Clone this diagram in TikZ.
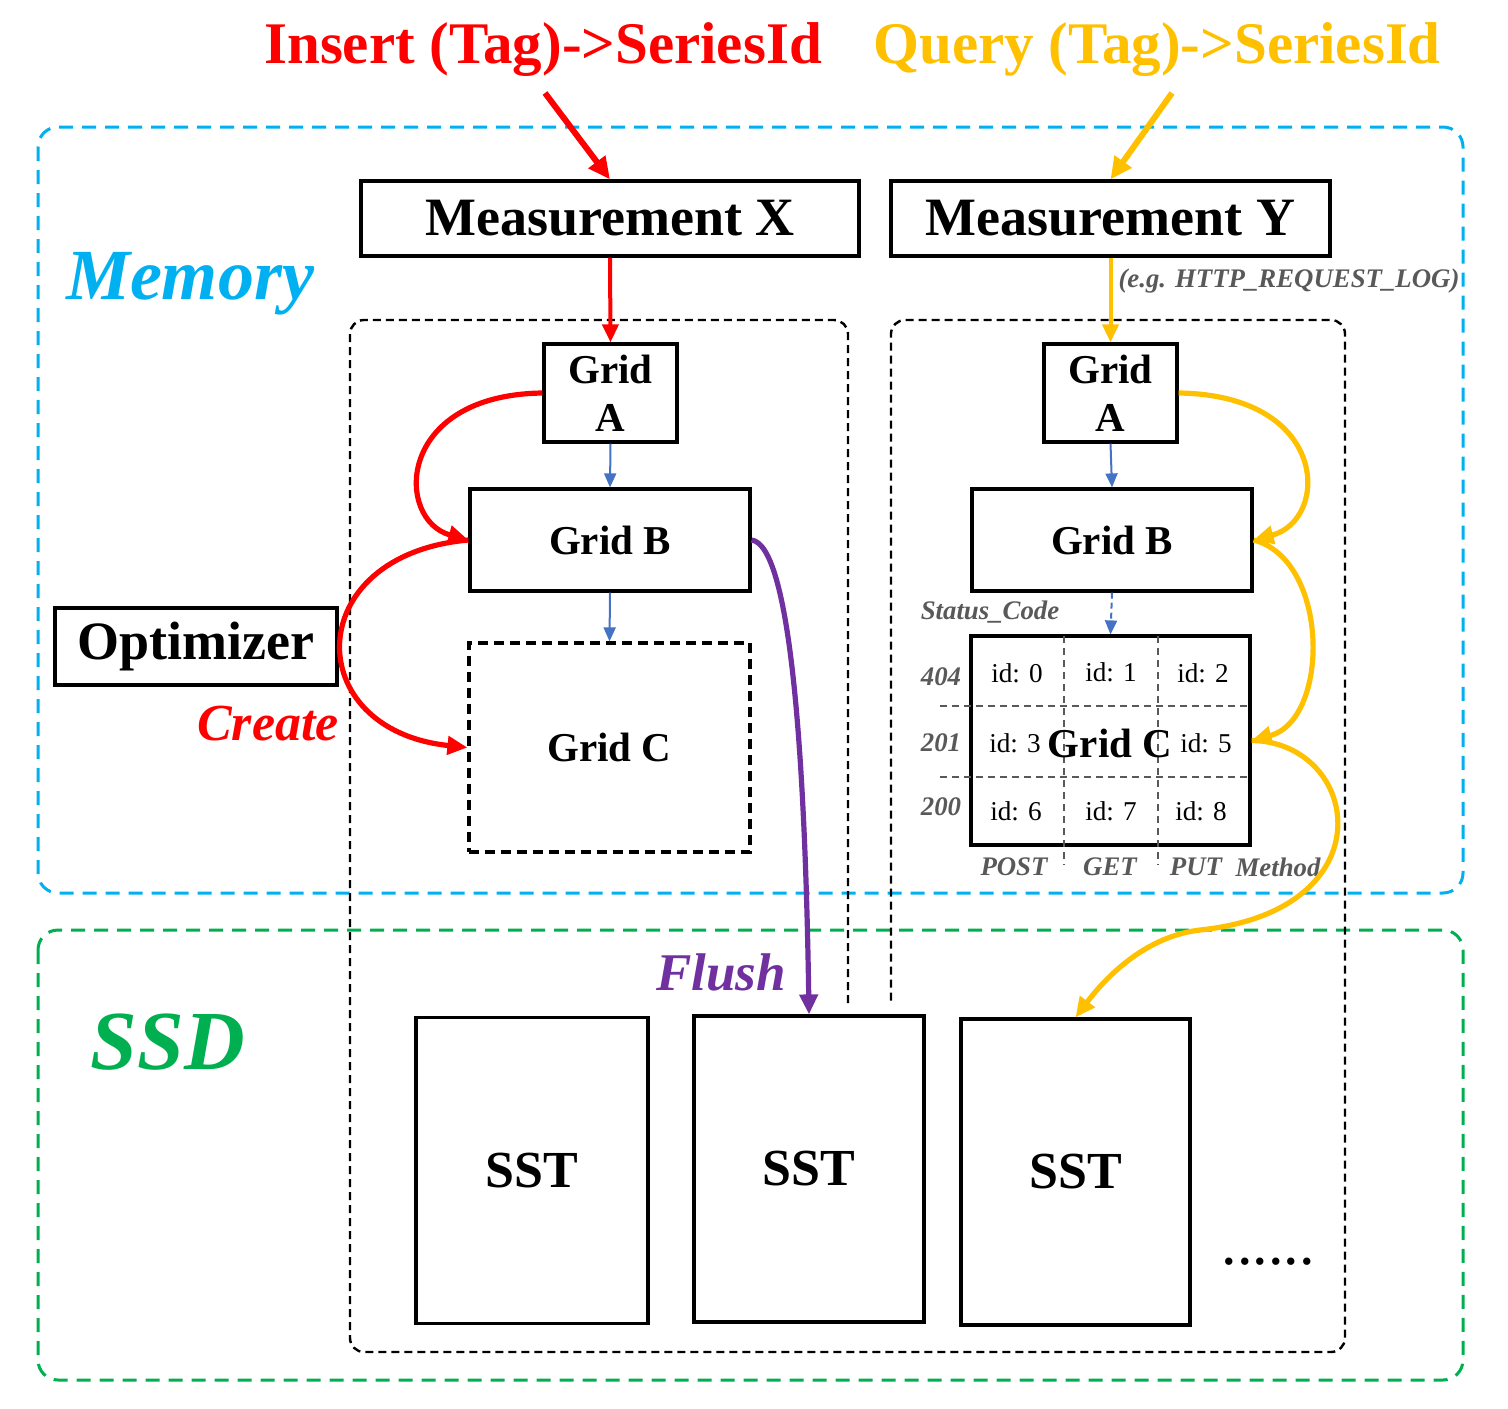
\documentclass[tikz,border=0pt]{standalone}
\usepackage{fontspec}
\setmainfont{Liberation Serif}
\usetikzlibrary{arrows.meta}
\definecolor{cred}{HTML}{FF0000}
\definecolor{corange}{HTML}{FFC000}
\definecolor{cblue}{HTML}{00B0F0}
\definecolor{cgreen}{HTML}{00B050}
\definecolor{cpurple}{HTML}{7030A0}
\definecolor{carrow}{HTML}{4472C4}
\definecolor{cgray}{HTML}{595959}
\newcommand{\myfs}[1]{\fontsize{#1}{#1}\selectfont}
\begin{document}
\begin{tikzpicture}[x=0.5pt,y=-0.5pt,
  box/.style={draw, line width=1.6pt, inner sep=0pt, font=\bfseries\myfs{27}},
  gridbox/.style={draw, line width=1.6pt, inner sep=0pt, align=center, font=\bfseries\fontsize{20.5}{24}\selectfont},
  sstbox/.style={draw, line width=1.6pt, inner sep=0pt, minimum height=153pt, font=\bfseries\myfs{26}},
  cell/.style={inner sep=0pt, font=\myfs{13.6}},
  glabel/.style={inner sep=0pt, text=cgray, font=\bfseries\itshape\myfs{13.4}},
  bigarr/.style={line width=3pt, -{Triangle[length=11pt,width=10pt]}},
  midarr/.style={line width=2pt, -{Triangle[length=9pt,width=8pt]}},
  curvearr/.style={line width=2.6pt, -{Triangle[length=10pt,width=9pt]}},
  thinarr/.style={draw=carrow, line width=1pt, -{Triangle[length=7pt,width=6pt]}},
  griddash/.style={draw=cgray, line width=0.9pt, dash pattern=on 3.5pt off 2.5pt}
]
\useasboundingbox (0,0) rectangle (1508,1408);

% outer regions
\draw[cblue, line width=1.5pt, dash pattern=on 7pt off 4.5pt, rounded corners=10pt] (38,127) rectangle (1463,893);
\draw[cgreen, line width=1.5pt, dash pattern=on 7pt off 4.5pt, rounded corners=10pt] (38,930) rectangle (1463,1380);

% black dashed composite container
\draw[black, line width=1.2pt, dash pattern=on 4pt off 2.5pt, rounded corners=7pt]
  (848,1003) -- (848,320) -- (350,320) -- (350,1352) -- (1345,1352) -- (1345,320) -- (891,320) -- (891,1003);

% titles
\node[inner sep=0pt, text=cred, font=\bfseries\myfs{29.5}] (tin) at (543,50) {Insert (Tag)->SeriesId};
\node[inner sep=0pt, text=corange, font=\bfseries\myfs{29.5}] (tq) at (1157,50) {Query (Tag)->SeriesId};
\coordinate (r0) at (545,93);
\coordinate (o0) at (1172,93);

% region labels
\node[inner sep=0pt, text=cblue, font=\bfseries\itshape\myfs{36}] (mem) at (190,284) {Memory};
\node[inner sep=0pt, text=cgreen, font=\bfseries\itshape\myfs{42}] (ssd) at (168,1042) {SSD};

% measurements
\node[box, minimum width=249pt, minimum height=37.5pt] (mx) at (610,218.5) {Measurement X};
\node[box, minimum width=219.5pt, minimum height=37.5pt] (my) at (1110.5,218.5) {Measurement Y};
\node[glabel] (eg) at (1289,281) {(e.g. HTTP\_REQUEST\_LOG)};

% left grids
\node[gridbox, minimum width=66.5pt, minimum height=49pt] (ga1) at (610.5,393) {Grid\\A};
\node[gridbox, minimum width=140pt, minimum height=51pt] (gb1) at (610,540) {Grid B};
\node[gridbox, dash pattern=on 5pt off 3pt, minimum width=140.5pt, minimum height=104.5pt] (gc1) at (609.5,747.5) {Grid C};

% optimizer
\node[box, minimum width=141pt, minimum height=38.5pt] (opt) at (196,646.5) {Optimizer};
\node[inner sep=0pt, text=cred, font=\bfseries\itshape\myfs{26}] (create) at (268,724) {Create};

% right grids
\node[gridbox, minimum width=66.5pt, minimum height=49pt] (ga2) at (1110.5,393) {Grid\\A};
\node[gridbox, minimum width=140pt, minimum height=51pt] (gb2) at (1112,540) {Grid B};
\node[draw, line width=1.6pt, inner sep=0pt, minimum width=139.5pt, minimum height=104.5pt] (gc2) at (1110.5,740.5) {};

% grid lines of right Grid C
\draw[griddash] (940,706) -- (1250,706);
\draw[griddash] (940,777) -- (1250,777);
\draw[griddash] (1064,636) -- (1064,865);
\draw[griddash] (1158,636) -- (1158,865);

% cells
\node[cell] (c0) at (1017,673) {id: 0};
\node[cell] (c1) at (1111,672) {id: 1};
\node[cell] (c2) at (1203,673) {id: 2};
\node[cell] (c3) at (1015,743) {id: 3};
\node[inner sep=0pt, font=\bfseries\myfs{20.5}] (gctext) at (1110,743) {Grid C};
\node[cell] (c5) at (1206,743) {id: 5};
\node[cell] (c6) at (1016,811) {id: 6};
\node[cell] (c7) at (1111,811) {id: 7};
\node[cell] (c8) at (1201,811) {id: 8};

% axis labels
\node[glabel] (sc) at (990,612) {Status\_Code};
\node[glabel] (r404) at (941,677) {404};
\node[glabel] (r201) at (941,743) {201};
\node[glabel] (r200) at (941,807) {200};
\node[glabel] (mpost) at (1014,867) {POST};
\node[glabel] (mget) at (1110,867) {GET};
\node[glabel] (mput) at (1196,867) {PUT};
\node[glabel] (mmeth) at (1278,867) {Method};

% SSTs
\node[sstbox, minimum width=116pt] (sst1) at (532,1170.5) {SST};
\node[sstbox, minimum width=115pt] (sst2) at (809,1169) {SST};
\node[sstbox, minimum width=114.5pt] (sst3) at (1075.5,1172) {SST};
\node[inner sep=0pt, font=\myfs{31}] (dots) at (1268,1262) {......};

\node[inner sep=0pt, text=cpurple, font=\bfseries\itshape\myfs{26.5}] (flush) at (721,972) {Flush};

% arrows
\draw[bigarr, cred] (r0) -- (mx.north);
\draw[bigarr, corange] (o0) -- (my.north);
\draw[midarr, cred] (mx.south) -- (ga1.north);
\draw[midarr, corange] (my.south) -- (ga2.north);

\draw[thinarr] (ga1.south) -- (gb1.north);
\draw[thinarr] (gb1.south) -- (gc1.north);
\draw[thinarr] (ga2.south) -- (gb2.north);
\draw[thinarr, dash pattern=on 3pt off 2pt] (gb2.south) -- (gc2.north);

\draw[curvearr, cred] (ga1.west) .. controls (395,395) and (395,520) .. (gb1.west);
\draw[curvearr, cred] (gb1.west) .. controls (300,555) and (300,730) .. (gc1.west);
\draw[curvearr, cpurple] (gb1.east) .. controls (790,545) and (805,750) .. (sst2.north);

\draw[curvearr, corange] (ga2.east) .. controls (1330,395) and (1330,520) .. (gb2.east);
\draw[curvearr, corange] (gb2.east) .. controls (1330,560) and (1330,720) .. (gc2.east);
\draw[curvearr, corange] (gc2.east) .. controls (1360,742) and (1390,910) .. (1200,930)
  .. controls (1140,937) and (1100,985) .. (sst3.north);
\end{tikzpicture}
\end{document}
